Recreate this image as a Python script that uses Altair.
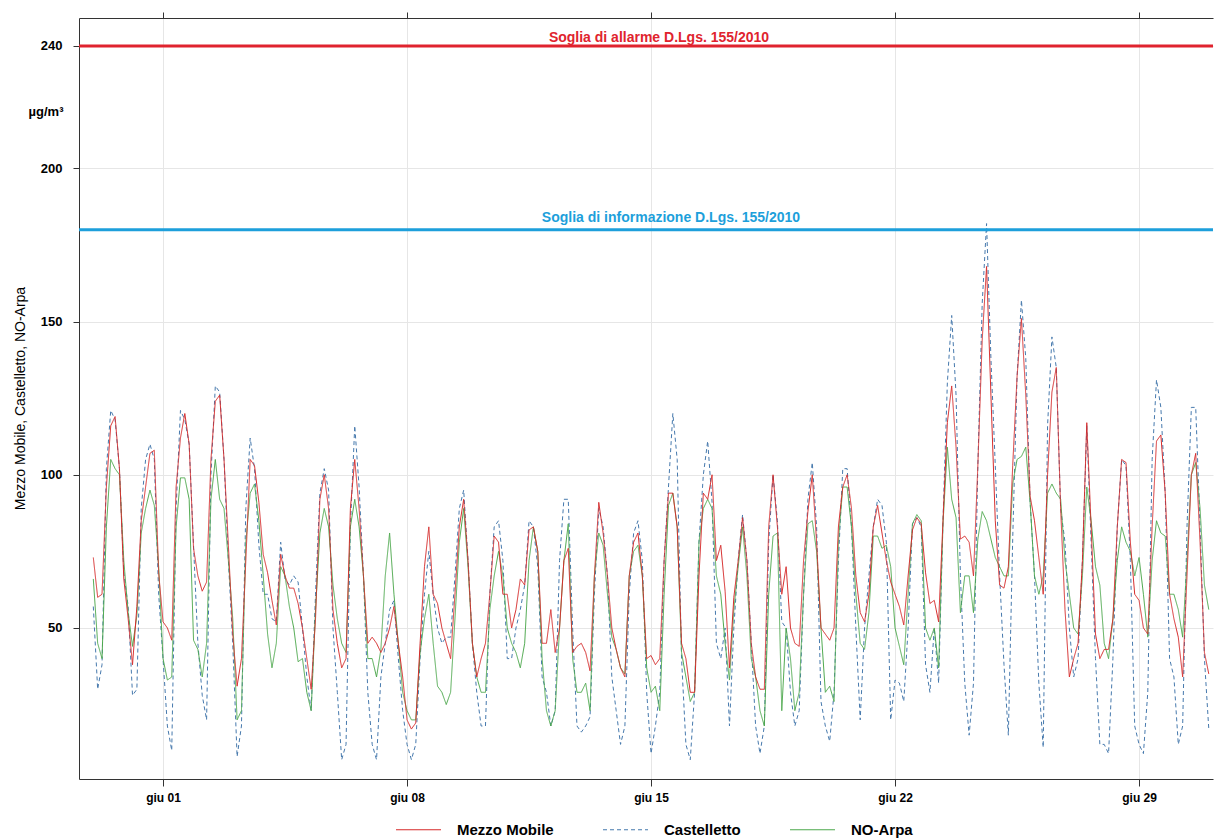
import altair as alt
import pandas as pd

# ---- data (3-hourly readings starting 30 May 00:00; x = hours since then) ----
step_hours = 3
mezzo = [
    73, 60, 61, 96, 116, 119, 102, 66,   # mag 30
    53, 38, 57, 85, 96, 107, 108, 68,    # mag 31
    52, 50, 46, 96, 112, 120, 110, 76,   # giu 01
    67, 62, 65, 105, 124, 126, 105, 77,  # giu 02
    48, 31, 40, 72, 105, 103, 91, 74,    # giu 03
    68, 59, 51, 74, 67, 63, 63, 58,      # giu 04
    50, 40, 30, 53, 92, 100, 89, 56,     # giu 05
    45, 37, 40, 89, 105, 89, 67, 45,     # giu 06
    47, 45, 42, 45, 50, 57, 45, 34,      # giu 07
    20, 17, 19, 45, 70, 83, 61, 58,      # giu 08
    50, 45, 40, 61, 83, 92, 72, 45,      # giu 09
    34, 40, 45, 61, 80, 78, 61, 61,      # giu 10
    50, 56, 66, 64, 82, 83, 75, 45,      # giu 11
    45, 56, 42, 50, 72, 76, 42, 44,      # giu 12
    45, 42, 36, 67, 91, 81, 67, 50,      # giu 13
    43, 37, 34, 67, 78, 81, 67, 40,      # giu 14
    41, 38, 40, 72, 94, 94, 83, 45,      # giu 15
    40, 29, 29, 67, 94, 92, 100, 72,     # giu 16
    77, 62, 37, 60, 72, 86, 72, 45,      # giu 17
    34, 30, 30, 83, 100, 83, 61, 70,     # giu 18
    50, 45, 44, 72, 88, 100, 78, 50,     # giu 19
    48, 46, 50, 83, 96, 100, 89, 67,     # giu 20
    55, 52, 61, 83, 90, 81, 72, 65,      # giu 21
    61, 57, 51, 67, 82, 86, 84, 68,      # giu 22
    58, 59, 52, 85, 117, 129, 109, 79,   # giu 23
    80, 78, 67, 103, 144, 168, 126, 85,  # giu 24
    64, 63, 70, 103, 132, 151, 126, 93,  # giu 25
    85, 73, 61, 100, 127, 135, 89, 56,   # giu 26
    34, 40, 45, 72, 117, 83, 48, 40,     # giu 27
    43, 43, 53, 83, 105, 104, 78, 61,    # giu 28
    59, 50, 48, 83, 111, 113, 94, 61,    # giu 29
    53, 47, 34, 67, 100, 107, 78, 42,    # giu 30
    35,
]
castelletto = [
    57, 30, 38, 102, 121, 118, 102, 68,
    57, 28, 30, 89, 105, 110, 105, 61,
    40, 18, 10, 89, 121, 118, 110, 77,
    45, 28, 20, 100, 129, 127, 105, 72,
    45, 8, 18, 89, 112, 102, 77, 61,
    61, 53, 52, 78, 66, 64, 67, 65,
    50, 34, 23, 61, 94, 102, 95, 50,
    29, 7, 12, 83, 116, 96, 67, 29,
    12, 7, 34, 45, 56, 59, 40, 23,
    12, 7, 12, 40, 61, 75, 61, 50,
    45, 47, 47, 67, 89, 95, 72, 45,
    29, 18, 18, 61, 83, 85, 72, 40,
    40, 50, 56, 64, 85, 83, 70, 34,
    29, 18, 23, 72, 92, 92, 50, 18,
    16, 18, 21, 61, 89, 83, 67, 34,
    23, 12, 18, 61, 81, 85, 72, 29,
    9, 18, 29, 72, 96, 120, 105, 40,
    12, 7, 29, 78, 100, 111, 91, 45,
    40, 50, 18, 50, 72, 87, 72, 45,
    18, 9, 18, 78, 100, 85, 52, 50,
    29, 18, 23, 61, 92, 104, 83, 26,
    18, 13, 29, 72, 102, 102, 83, 50,
    20, 50, 67, 83, 92, 90, 78, 20,
    33, 32, 26, 50, 84, 86, 83, 38,
    29, 50, 32, 85, 130, 152, 126, 67,
    32, 15, 32, 103, 156, 182, 138, 103,
    67, 38, 15, 79, 132, 157, 138, 91,
    67, 32, 11, 116, 145, 135, 89, 78,
    50, 34, 40, 72, 116, 78, 40, 12,
    12, 9, 40, 83, 105, 103, 72, 18,
    12, 9, 29, 105, 131, 122, 94, 40,
    34, 12, 18, 83, 122, 122, 83, 40,
    17,
]
arpa = [
    66, 45, 40, 83, 105, 102, 100, 72,
    55, 44, 54, 81, 89, 95, 90, 70,
    40, 33, 34, 83, 99, 99, 92, 46,
    43, 34, 45, 92, 105, 92, 89, 72,
    53, 20, 23, 78, 94, 97, 85, 67,
    48, 37, 45, 70, 67, 57, 50, 39,
    40, 29, 23, 56, 81, 89, 83, 64,
    53, 45, 42, 83, 92, 83, 67, 40,
    40, 34, 43, 67, 81, 61, 45, 29,
    23, 20, 20, 42, 53, 61, 45, 31,
    29, 25, 29, 53, 78, 89, 70, 45,
    34, 29, 29, 56, 67, 75, 67, 50,
    45, 42, 37, 45, 72, 83, 75, 40,
    23, 18, 23, 50, 72, 84, 40, 29,
    29, 32, 23, 67, 81, 77, 61, 47,
    43, 37, 35, 67, 75, 77, 67, 37,
    29, 31, 23, 61, 90, 94, 83, 42,
    34, 26, 29, 78, 89, 92, 89, 67,
    61, 45, 33, 56, 70, 83, 67, 40,
    34, 23, 18, 61, 80, 81, 23, 50,
    40, 23, 29, 61, 84, 85, 75, 50,
    29, 31, 26, 78, 96, 96, 83, 61,
    45, 43, 55, 80, 80, 76, 77, 70,
    50, 44, 38, 61, 84, 87, 85, 50,
    46, 50, 37, 84, 109, 92, 86, 55,
    67, 67, 55, 79, 88, 85, 79, 73,
    70, 67, 67, 97, 105, 106, 109, 91,
    67, 61, 67, 94, 97, 94, 92, 72,
    61, 50, 48, 67, 96, 85, 70, 64,
    45, 40, 53, 72, 83, 78, 75, 67,
    73, 61, 47, 72, 85, 81, 80, 61,
    61, 56, 47, 72, 100, 104, 89, 64,
    56,
]

series_names = ["Mezzo Mobile", "Castelletto", "NO-Arpa"]
series_colors = ["#d62a2a", "#4679ad", "#4ea94e"]
series_dash = [[1, 0], [4, 3], [1, 0]]

tick_hours = [48, 216, 384, 552, 720]
tick_labels = ["giu 01", "giu 08", "giu 15", "giu 22", "giu 29"]
y_ticks = [50, 100, 150, 200, 240]

thresh_values = [240, 180]
thresh_labels = ["Soglia di allarme D.Lgs. 155/2010",
                 "Soglia di informazione D.Lgs. 155/2010"]
thresh_colors = ["#e0232e", "#1d9fdb"]
unit_label = "µg/m³"
y_title = "Mezzo Mobile, Castelletto, NO-Arpa"

# ---- tables ----
rows = []
for name, vals in [("Castelletto", castelletto), ("NO-Arpa", arpa), ("Mezzo Mobile", mezzo)]:
    for i, v in enumerate(vals):
        rows.append({"serie": name, "ora": i * step_hours, "value": v})
df = pd.DataFrame(rows)
thr = pd.DataFrame({"value": thresh_values, "label": thresh_labels})
ticks_df = pd.DataFrame({"ora": tick_hours})

label_expr = " : ".join(f"datum.value == {h} ? '{l}'" for h, l in zip(tick_hours, tick_labels)) + " : ''"

NARROW = "Liberation Sans Narrow, Arial Narrow, Liberation Sans, sans-serif"
SANS = "Liberation Sans, Arial, sans-serif"

xs = alt.Scale(domain=[-9.85, 770.9], nice=False, zero=False)
ys = alt.Scale(domain=[0.7, 249.1], nice=False, zero=False)

y_axis = alt.Axis(values=y_ticks, format="d", grid=True, gridColor="#e6e6e6",
                  tickSize=6, labelPadding=11, labelFont=NARROW, labelFontSize=13,
                  labelFontWeight="bold", labelColor="black",
                  domainColor="#333333", tickColor="#333333",
                  title=y_title, titleFont=SANS, titleFontSize=14,
                  titleFontWeight="normal", titleColor="black",
                  titleX=-59, titleY=380, titleAngle=270,
                  titleAlign="center", titleBaseline="middle")

leg = alt.Legend(orient="none", legendX=316, legendY=788, direction="horizontal",
                 title=None, symbolType="stroke", symbolSize=2025, symbolStrokeWidth=1.2,
                 labelFont=NARROW, labelFontSize=15, labelFontWeight="bold",
                 labelColor="black", labelOffset=15, columnPadding=46, padding=0)

lines = alt.Chart(df).mark_line(strokeWidth=1).encode(
    x=alt.X("ora:Q", scale=xs,
            axis=alt.Axis(orient="bottom", values=tick_hours, labelExpr=label_expr,
                          title=None, grid=True, gridColor="#e6e6e6", tickSize=7,
                          labelPadding=6, labelFont=NARROW, labelFontSize=12,
                          labelFontWeight="bold", labelColor="black",
                          domainColor="#333333", tickColor="#333333")),
    y=alt.Y("value:Q", scale=ys, axis=y_axis),
    color=alt.Color("serie:N", scale=alt.Scale(domain=series_names, range=series_colors), legend=leg),
    strokeDash=alt.StrokeDash("serie:N", scale=alt.Scale(domain=series_names, range=series_dash), legend=leg),
)

top_axis = alt.Chart(ticks_df).mark_point(opacity=0).encode(
    x=alt.X("ora:Q", scale=xs,
            axis=alt.Axis(orient="top", values=tick_hours, labels=False, title=None,
                          grid=False, tickSize=6, domainColor="#333333", tickColor="#333333")),
    y=alt.value(0),
)

rules = alt.Chart(thr).mark_rule(strokeWidth=3).encode(
    y=alt.Y("value:Q", scale=ys, axis=y_axis),
    stroke=alt.Stroke("label:N", scale=alt.Scale(domain=thresh_labels, range=thresh_colors), legend=None),
)

text_base = alt.Chart(thr)
alarm_text = text_base.transform_filter(alt.datum.value == thresh_values[0]).mark_text(
    font=SANS, fontSize=14, fontWeight="bold", align="center", dy=-8
).encode(
    x=alt.value(580), y=alt.Y("value:Q", scale=ys, axis=y_axis), text="label:N",
    fill=alt.Fill("label:N", scale=alt.Scale(domain=thresh_labels, range=thresh_colors), legend=None),
)
info_text = text_base.transform_filter(alt.datum.value == thresh_values[1]).mark_text(
    font=SANS, fontSize=14, fontWeight="bold", align="center", dy=-12
).encode(
    x=alt.value(592), y=alt.Y("value:Q", scale=ys, axis=y_axis), text="label:N",
    fill=alt.Fill("label:N", scale=alt.Scale(domain=thresh_labels, range=thresh_colors), legend=None),
)

unit_text = alt.Chart(pd.DataFrame({"t": [unit_label]})).mark_text(
    font=SANS, fontSize=13, fontWeight="bold", align="center", color="black"
).encode(x=alt.value(-33), y=alt.value(94), text="t:N")

chart = alt.layer(lines, top_axis, rules, alarm_text, info_text, unit_text).resolve_axis(
    x="independent"
).properties(
    width=1134, height=761,
    padding={"left": 79, "top": 18, "right": 2, "bottom": 59},
    autosize=alt.AutoSizeParams(type="none"),
).configure_view(stroke=None)

chart.save("out.html", embed_options={"renderer": "svg", "actions": False})
